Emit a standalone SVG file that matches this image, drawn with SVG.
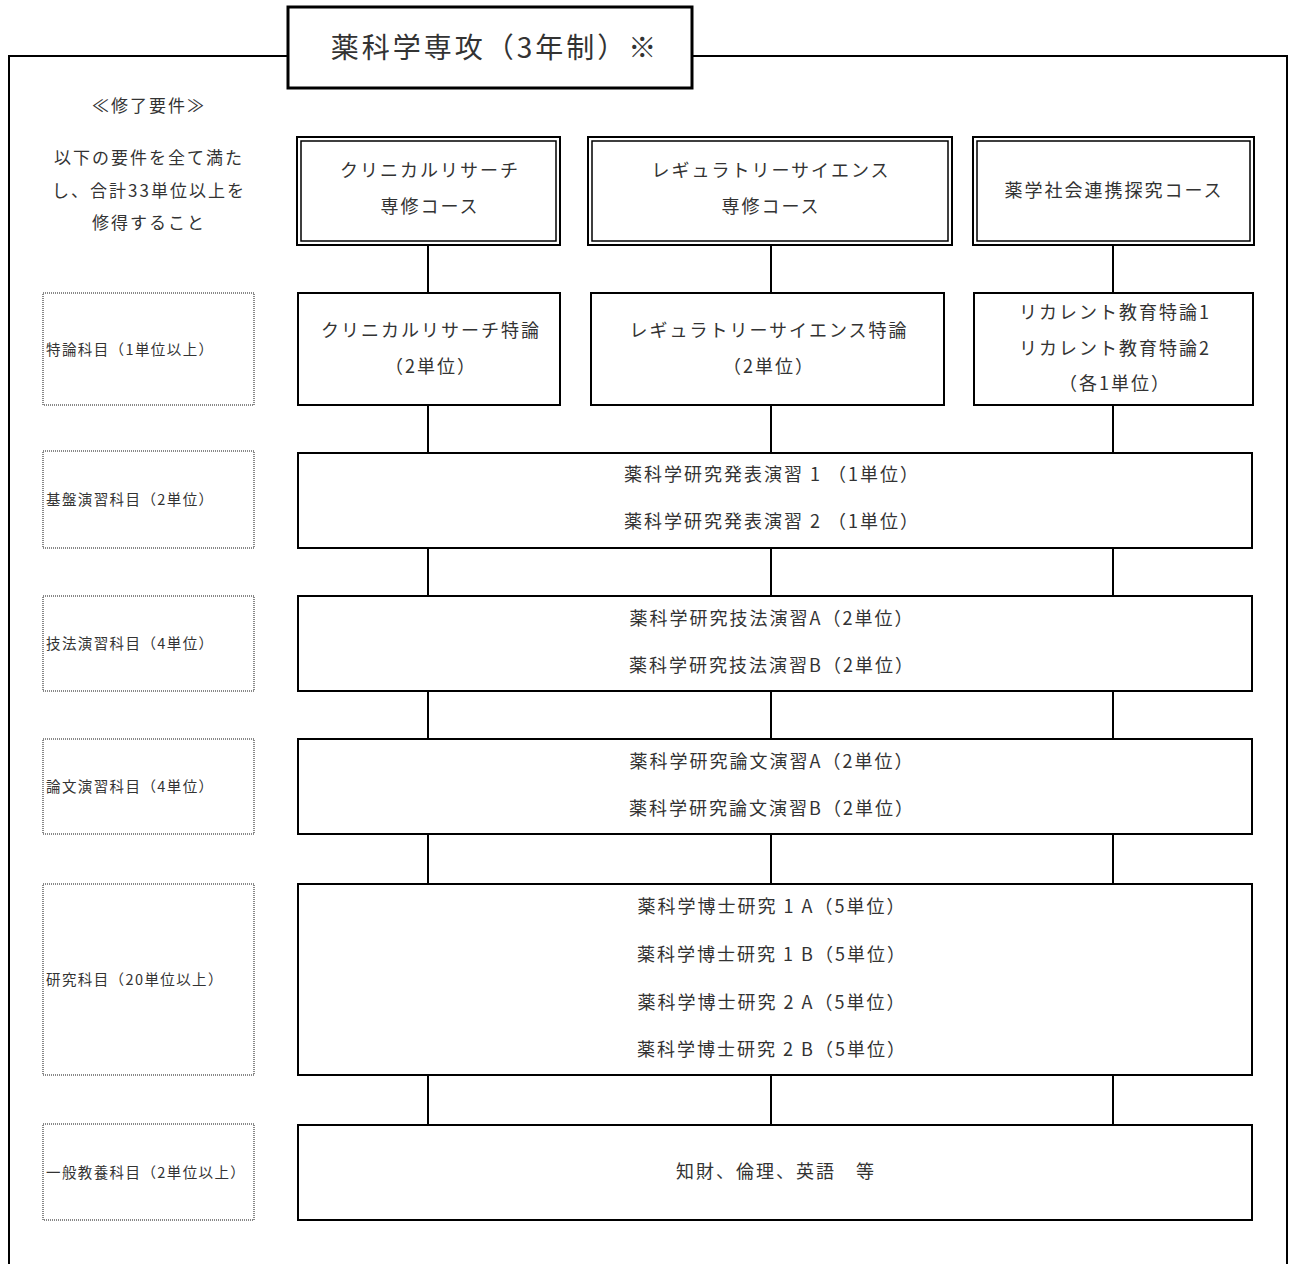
<svg xmlns="http://www.w3.org/2000/svg" width="1290" height="1264" viewBox="0 0 1290 1264">
<style>
text{font-family:"Noto Sans CJK JP","Noto Sans",sans-serif;fill:#333;}
.t{font-size:18px;text-anchor:middle;letter-spacing:2px;}
.r{font-size:17px;text-anchor:middle;letter-spacing:2px;}
.l{font-size:14.5px;letter-spacing:1.4px;}
.box{fill:#fff;stroke:#000;stroke-width:2;}
.dbl{fill:none;stroke:#000;stroke-width:1.5;}
.dot{fill:#fff;stroke:#888;stroke-width:2;stroke-dasharray:1 1;}
.c{stroke:#000;stroke-width:2;fill:none;}
</style>
<rect width="1290" height="1264" fill="#fff"/>
<g id="frame">
<path d="M9 1264 V56 H1287 V1264" fill="none" stroke="#000" stroke-width="2"/>
</g>
<g id="title">
<rect x="288" y="7" width="404" height="81" fill="#fff" stroke="#000" stroke-width="3"/>
<text x="495" y="58" style="font-size:28px;text-anchor:middle;letter-spacing:3px">薬科学専攻（3年制）※</text>
</g>
<g id="requirements">
<text class="r" x="149" y="112">≪修了要件≫</text>
<text class="r" x="149" y="164">以下の要件を全て満た</text>
<text class="r" x="149" y="197">し、合計33単位以上を</text>
<text class="r" x="149" y="229">修得すること</text>
</g>
<g id="connectors">
<path class="c" d="M428 245V293M771 245V293M1113 245V293"/>
<path class="c" d="M428 405V453M771 405V453M1113 405V453"/>
<path class="c" d="M428 548V596M771 548V596M1113 548V596"/>
<path class="c" d="M428 691V739M771 691V739M1113 691V739"/>
<path class="c" d="M428 834V884M771 834V884M1113 834V884"/>
<path class="c" d="M428 1075V1125M771 1075V1125M1113 1075V1125"/>
</g>
<g id="course1">
<rect class="box" x="297" y="137" width="263" height="108" stroke-width="3"/>
<rect class="dbl" x="301" y="141" width="255" height="100"/>
<text class="t" x="430" y="177">クリニカルリサーチ</text>
<text class="t" x="430" y="213">専修コース</text>
</g>
<g id="course2">
<rect class="box" x="588" y="137" width="364" height="108" stroke-width="3"/>
<rect class="dbl" x="592" y="141" width="356" height="100"/>
<text class="t" x="771" y="177">レギュラトリーサイエンス</text>
<text class="t" x="771" y="213">専修コース</text>
</g>
<g id="course3">
<rect class="box" x="973" y="137" width="281" height="108" stroke-width="3"/>
<rect class="dbl" x="977" y="141" width="273" height="100"/>
<text class="t" x="1114" y="197">薬学社会連携探究コース</text>
</g>
<g id="special1">
<rect class="box" x="298" y="293" width="262" height="112"/>
<text class="t" x="431" y="337">クリニカルリサーチ特論</text>
<text class="t" x="431" y="373">（2単位）</text>
</g>
<g id="special2">
<rect class="box" x="591" y="293" width="353" height="112"/>
<text class="t" x="769" y="337">レギュラトリーサイエンス特論</text>
<text class="t" x="769" y="373">（2単位）</text>
</g>
<g id="special3">
<rect class="box" x="974" y="293" width="279" height="112"/>
<text class="t" x="1115" y="319">リカレント教育特論1</text>
<text class="t" x="1115" y="355">リカレント教育特論2</text>
<text class="t" x="1115" y="390">（各1単位）</text>
</g>
<g id="basic">
<rect class="box" x="298" y="453" width="954" height="95"/>
<text class="t" x="772" y="481">薬科学研究発表演習 1 （1単位）</text>
<text class="t" x="772" y="528">薬科学研究発表演習 2 （1単位）</text>
</g>
<g id="technique">
<rect class="box" x="298" y="596" width="954" height="95"/>
<text class="t" x="772" y="625">薬科学研究技法演習A（2単位）</text>
<text class="t" x="772" y="672">薬科学研究技法演習B（2単位）</text>
</g>
<g id="thesis">
<rect class="box" x="298" y="739" width="954" height="95"/>
<text class="t" x="772" y="768">薬科学研究論文演習A（2単位）</text>
<text class="t" x="772" y="815">薬科学研究論文演習B（2単位）</text>
</g>
<g id="research">
<rect class="box" x="298" y="884" width="954" height="191"/>
<text class="t" x="772" y="913">薬科学博士研究 1 A（5単位）</text>
<text class="t" x="772" y="961">薬科学博士研究 1 B（5単位）</text>
<text class="t" x="772" y="1009">薬科学博士研究 2 A（5単位）</text>
<text class="t" x="772" y="1056">薬科学博士研究 2 B（5単位）</text>
</g>
<g id="general">
<rect class="box" x="298" y="1125" width="954" height="95"/>
<text class="t" x="776" y="1178">知財、倫理、英語　等</text>
</g>
<g id="label1"><rect class="dot" x="43" y="293" width="211" height="112"/><text class="l" x="46" y="355">特論科目（1単位以上）</text></g>
<g id="label2"><rect class="dot" x="43" y="451" width="211" height="97"/><text class="l" x="46" y="505">基盤演習科目（2単位）</text></g>
<g id="label3"><rect class="dot" x="43" y="596" width="211" height="95"/><text class="l" x="46" y="649">技法演習科目（4単位）</text></g>
<g id="label4"><rect class="dot" x="43" y="739" width="211" height="95"/><text class="l" x="46" y="792">論文演習科目（4単位）</text></g>
<g id="label5"><rect class="dot" x="43" y="884" width="211" height="191"/><text class="l" x="46" y="985">研究科目（20単位以上）</text></g>
<g id="label6"><rect class="dot" x="43" y="1124" width="211" height="96"/><text class="l" x="46" y="1178">一般教養科目（2単位以上）</text></g>
</svg>
